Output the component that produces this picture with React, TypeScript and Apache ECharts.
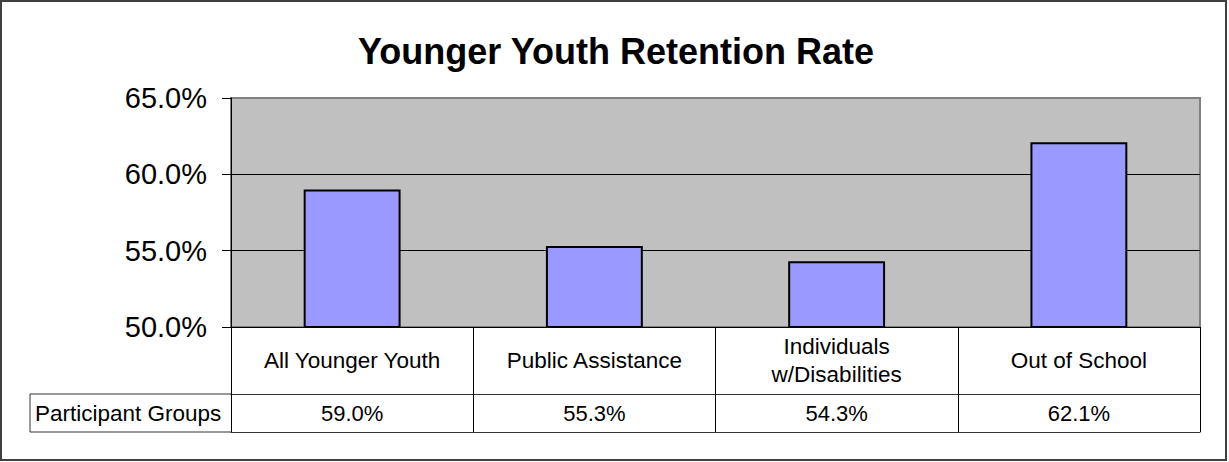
import React, { useEffect, useRef } from "react";
import * as echarts from "echarts";

const categories = ["All Younger Youth", "Public Assistance", "Individuals\nw/Disabilities", "Out of School"];
const retention = [59.0, 55.3, 54.3, 62.1];
const yMin = 50;
const yMax = 65;
const yStep = 5;
const rowTitle = "Participant Groups";
const chartTitle = "Younger Youth Retention Rate";

const W = 1229;
const H = 462;
const LEFT = 231;
const RIGHT = 1200;
const TOP = 98;
const BOTTOM = 327;
const ROW1 = 67;
const ROW2 = 105;
const TABLE_LEFT = 30;
const FONT = "'Liberation Sans', Arial, sans-serif";

export default function App() {
  const ref = useRef<HTMLDivElement>(null);
  useEffect(() => {
    if (!ref.current) return;
    const chart = echarts.init(ref.current, undefined, { renderer: "svg" });
    const fmt = (v: number) => v.toFixed(1) + "%";
    chart.setOption({
      animation: false,
      backgroundColor: "#ffffff",
      textStyle: { fontFamily: FONT },
      grid: {
        left: LEFT,
        right: W - RIGHT,
        top: TOP,
        bottom: H - BOTTOM,
        show: true,
        backgroundColor: "#C0C0C0",
        borderColor: "#808080",
        borderWidth: 2,
      },
      xAxis: [
        {
          type: "category",
          data: categories,
          position: "bottom",
          axisLine: { show: true, lineStyle: { color: "#000", width: 1 } },
          axisTick: { show: true, alignWithLabel: false, length: ROW2, lineStyle: { color: "#000", width: 1 } },
          axisLabel: {
            interval: 0,
            margin: 33,
            verticalAlign: "middle",
            lineHeight: 28,
            fontSize: 22.5,
            color: "#000",
            fontFamily: FONT,
          },
          splitLine: { show: false },
        },
        {
          type: "category",
          data: categories,
          position: "bottom",
          offset: ROW1,
          axisLine: { show: true, lineStyle: { color: "#333", width: 1 } },
          axisTick: { show: false },
          axisLabel: {
            interval: 0,
            margin: 19,
            verticalAlign: "middle",
            fontSize: 22,
            color: "#000",
            fontFamily: FONT,
            formatter: (_v: string, i: number) => fmt(retention[i]),
          },
        },
        {
          type: "category",
          data: categories,
          position: "bottom",
          offset: ROW2,
          axisLine: { show: true, lineStyle: { color: "#333", width: 1 } },
          axisTick: { show: false },
          axisLabel: { show: false },
        },
      ],
      yAxis: {
        type: "value",
        min: yMin,
        max: yMax,
        interval: yStep,
        axisLine: { show: true, lineStyle: { color: "#000", width: 1 } },
        axisTick: { show: true, length: 9, lineStyle: { color: "#000", width: 1 } },
        axisLabel: {
          margin: 24,
          fontSize: 29,
          color: "#000",
          fontFamily: FONT,
          formatter: (v: number) => fmt(v),
        },
        splitLine: { show: true, showMaxLine: false, lineStyle: { color: "#000", width: 1 } },
      },
      series: [
        {
          type: "bar",
          data: retention,
          xAxisIndex: 0,
          barWidth: "40%",
          itemStyle: { color: "#9999FF", borderColor: "#000", borderWidth: 2 },
        },
      ],
      graphic: [
        {
          type: "rect",
          shape: { x: 1, y: 1, width: W - 4, height: H - 3 },
          style: { fill: "none", stroke: "#404040", lineWidth: 2 },
          silent: true,
        },
        {
          type: "text",
          x: 616,
          y: 51,
          style: {
            text: chartTitle,
            fontSize: 36,
            fontWeight: "bold",
            fontFamily: FONT,
            fill: "#000",
            align: "center",
            verticalAlign: "middle",
          },
        },
        {
          type: "polyline",
          shape: { points: [[LEFT, BOTTOM + ROW1], [TABLE_LEFT, BOTTOM + ROW1], [TABLE_LEFT, BOTTOM + ROW2], [LEFT, BOTTOM + ROW2]] },
          style: { fill: "none", stroke: "#333", lineWidth: 1 },
          silent: true,
        },
        {
          type: "text",
          x: TABLE_LEFT + 5,
          y: BOTTOM + (ROW1 + ROW2) / 2,
          style: {
            text: rowTitle,
            fontSize: 22.5,
            fontFamily: FONT,
            fill: "#000",
            align: "left",
            verticalAlign: "middle",
          },
        },
      ],
    });
    return () => chart.dispose();
  }, []);
  return <div ref={ref} style={{ position: "fixed", left: 0, top: 0, width: W, height: H }} />;
}
